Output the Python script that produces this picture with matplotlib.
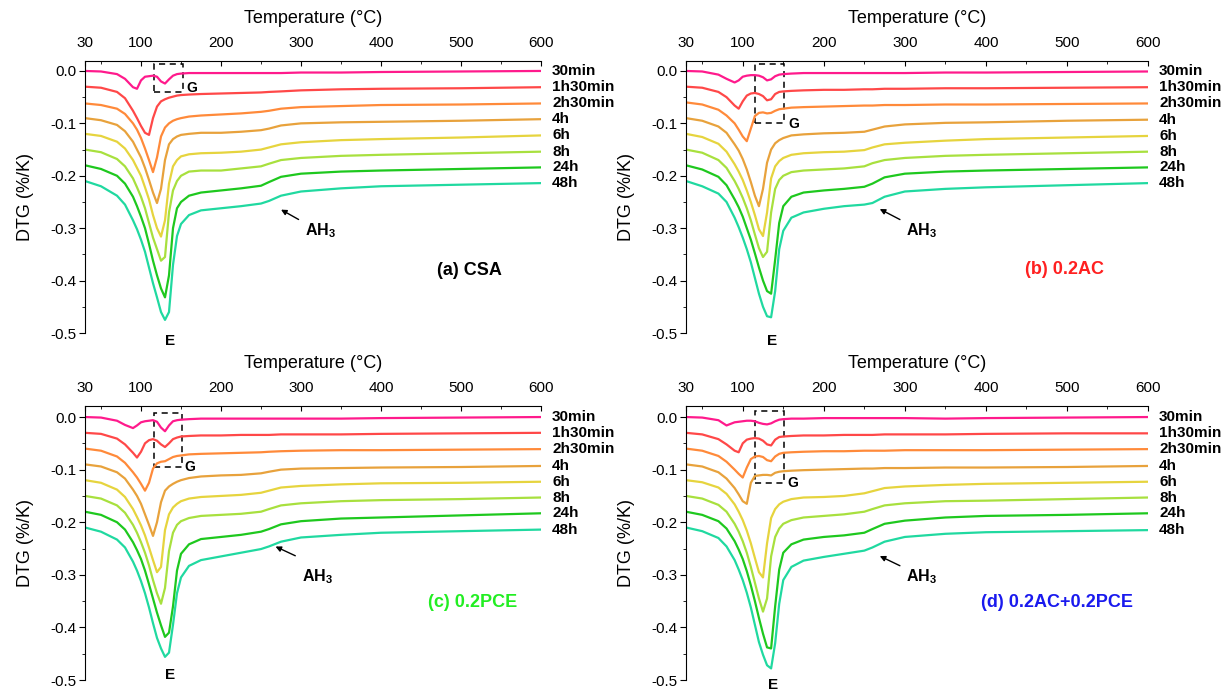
import numpy as np
import matplotlib
matplotlib.use("Agg")
import matplotlib.pyplot as plt
from matplotlib.patches import Rectangle

plt.rcParams['font.family'] = ['Liberation Sans', 'DejaVu Sans']
plt.rcParams['mathtext.fontset'] = 'custom'
plt.rcParams['mathtext.rm'] = 'Liberation Sans'
plt.rcParams['mathtext.bf'] = 'Liberation Sans:bold'

# temperature grid (°C) shared by every curve
temp = [30, 50, 70, 80, 90, 95, 100, 105, 110, 115, 120, 125, 130, 135, 140,
        145, 150, 160, 175, 200, 225, 250, 260, 275, 300, 350, 400, 500, 600]

ages = ['30min', '1h30min', '2h30min', '4h', '6h', '8h', '24h', '48h']
colors = ['#ff1a8c', '#ff4848', '#ff8a3a', '#e8a23c', '#e6d43e', '#a8e03e',
          '#1ec81e', '#20d9a0']

# DTG (%/K), curves already shifted by the plot offsets
csa_dtg = [
    [0.0, -0.001, -0.006, -0.015, -0.031, -0.034, -0.018, -0.011, -0.010, -0.009, -0.011, -0.020, -0.024, -0.016, -0.009, -0.006, -0.005, -0.004, -0.004, -0.004, -0.004, -0.004, -0.004, -0.004, -0.003, -0.003, -0.002, -0.001, 0.0],
    [-0.030, -0.032, -0.040, -0.052, -0.076, -0.090, -0.105, -0.118, -0.122, -0.090, -0.068, -0.058, -0.054, -0.051, -0.049, -0.047, -0.046, -0.045, -0.044, -0.043, -0.042, -0.041, -0.040, -0.039, -0.037, -0.035, -0.034, -0.033, -0.031],
    [-0.062, -0.065, -0.072, -0.082, -0.100, -0.112, -0.128, -0.148, -0.170, -0.193, -0.165, -0.125, -0.108, -0.100, -0.095, -0.092, -0.090, -0.087, -0.085, -0.083, -0.081, -0.078, -0.076, -0.072, -0.069, -0.067, -0.065, -0.064, -0.062],
    [-0.090, -0.094, -0.103, -0.115, -0.135, -0.150, -0.165, -0.185, -0.208, -0.232, -0.252, -0.225, -0.170, -0.140, -0.130, -0.125, -0.122, -0.120, -0.118, -0.118, -0.116, -0.113, -0.110, -0.104, -0.100, -0.098, -0.097, -0.095, -0.092],
    [-0.120, -0.124, -0.135, -0.148, -0.170, -0.185, -0.200, -0.222, -0.245, -0.275, -0.300, -0.316, -0.285, -0.215, -0.182, -0.170, -0.163, -0.159, -0.157, -0.156, -0.154, -0.150, -0.146, -0.140, -0.136, -0.132, -0.130, -0.127, -0.123],
    [-0.150, -0.155, -0.168, -0.182, -0.205, -0.222, -0.240, -0.262, -0.290, -0.318, -0.340, -0.362, -0.355, -0.270, -0.228, -0.210, -0.200, -0.192, -0.190, -0.190, -0.186, -0.182, -0.177, -0.170, -0.166, -0.162, -0.160, -0.157, -0.154],
    [-0.180, -0.187, -0.200, -0.215, -0.240, -0.258, -0.278, -0.300, -0.330, -0.362, -0.390, -0.415, -0.432, -0.390, -0.300, -0.262, -0.250, -0.238, -0.232, -0.228, -0.224, -0.219, -0.212, -0.202, -0.196, -0.192, -0.190, -0.187, -0.184],
    [-0.210, -0.220, -0.238, -0.255, -0.285, -0.302, -0.322, -0.345, -0.375, -0.405, -0.432, -0.460, -0.475, -0.460, -0.370, -0.315, -0.292, -0.275, -0.266, -0.262, -0.258, -0.253, -0.248, -0.238, -0.230, -0.224, -0.220, -0.217, -0.214],
]

ac_dtg = [
    [0.0, -0.001, -0.007, -0.015, -0.022, -0.018, -0.011, -0.009, -0.008, -0.008, -0.009, -0.012, -0.018, -0.016, -0.010, -0.007, -0.006, -0.005, -0.004, -0.004, -0.004, -0.004, -0.004, -0.004, -0.004, -0.003, -0.003, -0.002, -0.001],
    [-0.030, -0.032, -0.040, -0.050, -0.066, -0.072, -0.058, -0.047, -0.043, -0.042, -0.044, -0.048, -0.056, -0.054, -0.044, -0.040, -0.039, -0.038, -0.037, -0.036, -0.036, -0.035, -0.035, -0.034, -0.034, -0.033, -0.033, -0.032, -0.031],
    [-0.060, -0.064, -0.074, -0.085, -0.100, -0.112, -0.125, -0.134, -0.110, -0.086, -0.080, -0.079, -0.081, -0.080, -0.076, -0.073, -0.072, -0.070, -0.069, -0.068, -0.067, -0.066, -0.066, -0.065, -0.065, -0.064, -0.064, -0.063, -0.062],
    [-0.090, -0.095, -0.106, -0.118, -0.140, -0.152, -0.168, -0.188, -0.212, -0.238, -0.258, -0.225, -0.175, -0.150, -0.138, -0.132, -0.128, -0.123, -0.121, -0.119, -0.118, -0.116, -0.112, -0.106, -0.102, -0.099, -0.098, -0.095, -0.093],
    [-0.120, -0.126, -0.139, -0.154, -0.178, -0.192, -0.208, -0.228, -0.250, -0.275, -0.302, -0.315, -0.270, -0.205, -0.182, -0.172, -0.166, -0.160, -0.157, -0.155, -0.154, -0.151, -0.146, -0.140, -0.137, -0.133, -0.130, -0.127, -0.124],
    [-0.150, -0.156, -0.170, -0.185, -0.210, -0.225, -0.242, -0.262, -0.285, -0.312, -0.338, -0.355, -0.345, -0.270, -0.225, -0.208, -0.200, -0.193, -0.190, -0.188, -0.186, -0.182, -0.176, -0.170, -0.166, -0.162, -0.160, -0.157, -0.154],
    [-0.180, -0.188, -0.202, -0.218, -0.245, -0.260, -0.278, -0.300, -0.322, -0.348, -0.375, -0.400, -0.420, -0.425, -0.360, -0.290, -0.258, -0.240, -0.232, -0.228, -0.225, -0.221, -0.215, -0.203, -0.196, -0.192, -0.190, -0.187, -0.184],
    [-0.210, -0.220, -0.234, -0.250, -0.280, -0.298, -0.318, -0.340, -0.365, -0.395, -0.425, -0.450, -0.468, -0.470, -0.420, -0.340, -0.305, -0.280, -0.270, -0.263, -0.258, -0.255, -0.252, -0.240, -0.230, -0.225, -0.222, -0.218, -0.214],
]

pce_dtg = [
    [0.0, -0.001, -0.007, -0.015, -0.021, -0.016, -0.010, -0.008, -0.007, -0.006, -0.009, -0.020, -0.027, -0.016, -0.008, -0.006, -0.005, -0.004, -0.003, -0.003, -0.003, -0.003, -0.003, -0.003, -0.003, -0.003, -0.002, -0.001, 0.0],
    [-0.030, -0.032, -0.041, -0.052, -0.068, -0.077, -0.066, -0.050, -0.044, -0.042, -0.045, -0.052, -0.057, -0.050, -0.042, -0.039, -0.037, -0.036, -0.035, -0.035, -0.034, -0.034, -0.034, -0.033, -0.033, -0.033, -0.032, -0.031, -0.030],
    [-0.060, -0.064, -0.075, -0.087, -0.105, -0.115, -0.127, -0.140, -0.125, -0.098, -0.088, -0.085, -0.084, -0.080, -0.076, -0.074, -0.073, -0.071, -0.070, -0.069, -0.068, -0.067, -0.066, -0.065, -0.064, -0.063, -0.063, -0.062, -0.061],
    [-0.090, -0.094, -0.105, -0.117, -0.138, -0.150, -0.165, -0.185, -0.205, -0.226, -0.200, -0.162, -0.140, -0.132, -0.127, -0.123, -0.120, -0.116, -0.113, -0.111, -0.110, -0.107, -0.104, -0.100, -0.098, -0.097, -0.096, -0.095, -0.093],
    [-0.120, -0.125, -0.138, -0.152, -0.175, -0.190, -0.206, -0.225, -0.248, -0.272, -0.295, -0.285, -0.215, -0.185, -0.172, -0.165, -0.160, -0.155, -0.152, -0.150, -0.148, -0.144, -0.140, -0.134, -0.131, -0.128, -0.126, -0.125, -0.123],
    [-0.150, -0.155, -0.168, -0.182, -0.205, -0.220, -0.238, -0.258, -0.282, -0.310, -0.335, -0.355, -0.325, -0.255, -0.220, -0.205, -0.198, -0.192, -0.188, -0.186, -0.184, -0.180, -0.175, -0.168, -0.164, -0.160, -0.158, -0.156, -0.153],
    [-0.180, -0.186, -0.200, -0.214, -0.238, -0.253, -0.270, -0.292, -0.318, -0.345, -0.372, -0.396, -0.418, -0.410, -0.360, -0.292, -0.260, -0.242, -0.232, -0.228, -0.224, -0.218, -0.213, -0.204, -0.198, -0.193, -0.191, -0.187, -0.183],
    [-0.210, -0.218, -0.233, -0.248, -0.275, -0.292, -0.312, -0.335, -0.362, -0.392, -0.420, -0.440, -0.456, -0.448, -0.395, -0.335, -0.305, -0.283, -0.272, -0.265, -0.258, -0.251, -0.246, -0.237, -0.229, -0.224, -0.220, -0.217, -0.214],
]

acpce_dtg = [
    [0.0, -0.001, -0.006, -0.016, -0.010, -0.009, -0.008, -0.007, -0.007, -0.008, -0.011, -0.013, -0.014, -0.012, -0.008, -0.005, -0.004, -0.003, -0.003, -0.002, -0.002, -0.002, -0.002, -0.002, -0.002, -0.003, -0.002, -0.001, 0.0],
    [-0.030, -0.033, -0.042, -0.052, -0.064, -0.067, -0.050, -0.043, -0.041, -0.040, -0.041, -0.045, -0.052, -0.054, -0.043, -0.038, -0.037, -0.036, -0.035, -0.035, -0.034, -0.034, -0.034, -0.033, -0.033, -0.033, -0.032, -0.031, -0.031],
    [-0.060, -0.064, -0.074, -0.085, -0.100, -0.108, -0.115, -0.096, -0.080, -0.075, -0.074, -0.076, -0.082, -0.084, -0.075, -0.070, -0.068, -0.067, -0.066, -0.065, -0.065, -0.064, -0.064, -0.064, -0.063, -0.063, -0.063, -0.062, -0.061],
    [-0.090, -0.094, -0.105, -0.117, -0.135, -0.147, -0.160, -0.165, -0.125, -0.112, -0.111, -0.110, -0.110, -0.111, -0.106, -0.104, -0.103, -0.102, -0.101, -0.100, -0.099, -0.098, -0.098, -0.097, -0.097, -0.096, -0.096, -0.095, -0.093],
    [-0.120, -0.124, -0.134, -0.146, -0.166, -0.180, -0.196, -0.216, -0.240, -0.268, -0.295, -0.305, -0.240, -0.192, -0.175, -0.166, -0.161, -0.156, -0.153, -0.152, -0.150, -0.145, -0.141, -0.135, -0.132, -0.129, -0.127, -0.125, -0.123],
    [-0.150, -0.155, -0.167, -0.180, -0.203, -0.218, -0.236, -0.258, -0.285, -0.315, -0.345, -0.370, -0.345, -0.265, -0.228, -0.212, -0.203, -0.196, -0.191, -0.188, -0.185, -0.180, -0.175, -0.168, -0.164, -0.160, -0.159, -0.156, -0.153],
    [-0.180, -0.186, -0.198, -0.212, -0.236, -0.252, -0.270, -0.293, -0.320, -0.350, -0.382, -0.412, -0.438, -0.440, -0.360, -0.290, -0.258, -0.242, -0.233, -0.228, -0.225, -0.220, -0.213, -0.203, -0.197, -0.191, -0.188, -0.186, -0.183],
    [-0.210, -0.217, -0.230, -0.246, -0.272, -0.290, -0.310, -0.334, -0.362, -0.395, -0.428, -0.452, -0.472, -0.478, -0.430, -0.355, -0.310, -0.285, -0.273, -0.266, -0.260, -0.254, -0.248, -0.237, -0.228, -0.222, -0.219, -0.217, -0.215],
]

panel_titles = ['(a) CSA', '(b) 0.2AC', '(c) 0.2PCE', '(d) 0.2AC+0.2PCE']
title_colors = ['black', '#ff2020', '#22ee22', '#1a1aee']

W, H = 1222, 693
fig = plt.figure(figsize=(W / 100, H / 100), dpi=100)

# axes boxes in pixels: left, right, top spine, -0.5 line
boxes = [(85, 541, 61, 333), (686, 1148, 61, 333),
         (85, 541, 406, 680), (686, 1148, 406, 680)]
ytops = [0.019, 0.019, 0.021, 0.021]
datasets = [csa_dtg, ac_dtg, pce_dtg, acpce_dtg]

# annotation positions in data units of each panel
g_boxes = [(116, 152, -0.040, 0.013), (115, 151, -0.099, 0.013),
           (116, 151, -0.095, 0.008), (115, 151, -0.125, 0.011)]
g_text = [(157, -0.032), (156, -0.101), (154, -0.095), (155, -0.125)]
e_text = [(136, -0.515), (136, -0.515), (136, -0.49), (138, -0.51)]
ah_text = [(325, -0.305), (321, -0.304), (321, -0.304), (321, -0.304)]
ah_tail = [(300, -0.286), (297, -0.286), (296, -0.266), (297, -0.285)]
ah_head = [(272, -0.262), (266, -0.261), (265, -0.244), (266, -0.262)]
title_pos = [(510, -0.380), (497, -0.378), (514, -0.352), (488, -0.352)]

for i, (l, r, t, b) in enumerate(boxes):
    ax = fig.add_axes([l / W, 1 - b / H, (r - l) / W, (b - t) / H])
    for k, series in enumerate(datasets[i]):
        ax.plot(temp, series, color=colors[k], lw=1.6)
        ax.annotate(ages[k], xy=(1, series[-1]),
                    xycoords=('axes fraction', 'data'), xytext=(8, 0),
                    textcoords='offset points', va='center', ha='left',
                    fontsize=11, fontweight='bold', annotation_clip=False)

    ax.set_xlim(30, 600)
    ax.set_ylim(-0.5, ytops[i])
    ax.spines['right'].set_visible(False)
    ax.spines['bottom'].set_visible(False)
    ax.xaxis.tick_top()
    ax.xaxis.set_label_position('top')
    ax.set_xticks([30, 100, 200, 300, 400, 500, 600])
    ax.set_xticks(np.arange(50, 600, 50), minor=True)
    ax.set_yticks([0.0, -0.1, -0.2, -0.3, -0.4, -0.5])
    ax.set_yticks(np.arange(-0.45, 0.0, 0.1), minor=True)
    ax.set_yticklabels(['0.0', '-0.1', '-0.2', '-0.3', '-0.4', '-0.5'])
    ax.tick_params(axis='x', which='both', direction='in', labelsize=11,
                   pad=8, length=3.5)
    ax.tick_params(axis='x', which='minor', length=2)
    ax.tick_params(axis='y', which='major', direction='out', labelsize=11,
                   length=4, pad=2)
    ax.tick_params(axis='y', which='minor', direction='out', length=2.5)
    ax.set_xlabel('Temperature (°C)', fontsize=13, labelpad=9)
    ax.set_ylabel('DTG (%/K)', fontsize=13, labelpad=12)

    x0, x1, y0, y1 = g_boxes[i]
    ax.add_patch(Rectangle((x0, y0), x1 - x0, y1 - y0, fill=False,
                           ls=(0, (4, 3)), lw=1.1, ec='black', clip_on=False))
    ax.text(*g_text[i], 'G', fontsize=10, fontweight='bold', va='center')
    ax.text(*e_text[i], 'E', fontsize=11, fontweight='bold', ha='center',
            va='center', clip_on=False)
    ax.annotate('', xy=ah_head[i], xytext=ah_tail[i],
                arrowprops=dict(arrowstyle='-|>', color='black', lw=1.0,
                                mutation_scale=8))
    ax.text(*ah_text[i], r'$\mathbf{AH_3}$', fontsize=11.5, ha='center',
            va='center')
    ax.text(*title_pos[i], panel_titles[i], fontsize=13, fontweight='bold',
            color=title_colors[i], ha='center', va='center')

fig.savefig('out.png', dpi=100)
